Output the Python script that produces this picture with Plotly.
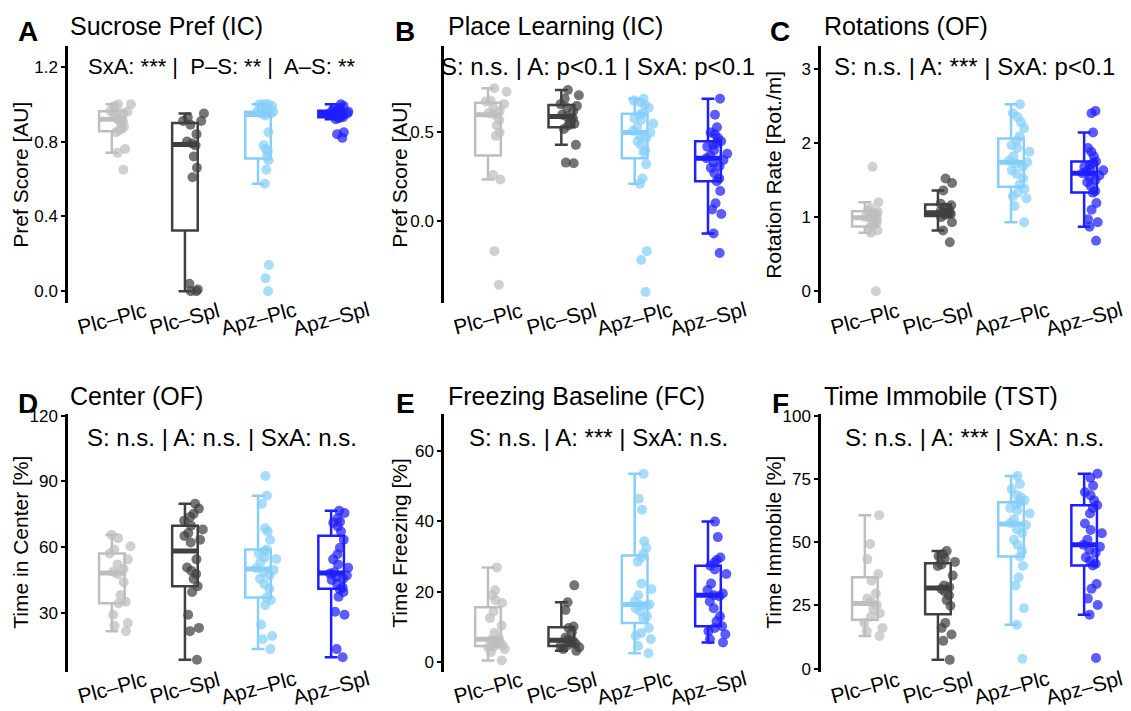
import numpy as np
import plotly.graph_objects as go

W, H = 1131, 711
FONT = "Liberation Sans, Arial, Helvetica, sans-serif"

cats = ["Plc–Plc", "Plc–Spl", "Apz–Plc", "Apz–Spl"]
box_colors = ["#BEBEBE", "#404040", "#87CEFA", "#1E1EFF"]
point_colors = ["rgba(190,190,190,0.72)", "rgba(64,64,64,0.72)",
                "rgba(135,206,250,0.72)", "rgba(30,30,255,0.72)"]

# A: Sucrose Pref (IC)
sucrose_plc_plc = [0.65, 0.74, 0.76, 0.85, 0.86, 0.88, 0.90, 0.91, 0.92, 0.94, 0.95, 0.955, 0.96, 0.965, 0.99, 1.0, 1.0]
sucrose_plc_spl = [0.0, 0.0, 0.01, 0.04, 0.61, 0.66, 0.72, 0.78, 0.79, 0.80, 0.84, 0.89, 0.91, 0.91, 0.93, 0.95]
sucrose_apz_plc = [0.0, 0.07, 0.14, 0.575, 0.65, 0.70, 0.72, 0.75, 0.76, 0.78, 0.85, 0.94,
                   0.95, 0.95, 0.95, 0.96, 0.96, 0.96, 0.96, 0.98, 0.99, 1.0, 1.0, 1.0]
sucrose_apz_spl = [0.82, 0.84, 0.85, 0.92, 0.925, 0.93, 0.93, 0.94, 0.94, 0.94, 0.945, 0.95, 0.95, 0.95,
                   0.96, 0.96, 0.965, 0.97, 0.97, 0.98, 0.99, 1.0]

# B: Place Learning (IC)
place_plc_plc = [-0.36, -0.17, 0.235, 0.26, 0.48, 0.50, 0.54, 0.57, 0.60, 0.61, 0.62, 0.64, 0.66, 0.675, 0.68, 0.73, 0.75]
place_plc_spl = [0.326, 0.33, 0.43, 0.52, 0.54, 0.55, 0.56, 0.58, 0.59, 0.60, 0.62, 0.64, 0.65, 0.66, 0.69, 0.71, 0.74]
place_apz_plc = [-0.40, -0.22, -0.17, 0.21, 0.24, 0.32, 0.39, 0.40, 0.43, 0.45, 0.47, 0.48, 0.50, 0.51, 0.53,
                 0.55, 0.57, 0.58, 0.60, 0.61, 0.64, 0.655, 0.67, 0.68, 0.69]
place_apz_spl = [-0.18, -0.07, 0.04, 0.065, 0.10, 0.17, 0.225, 0.24, 0.27, 0.30, 0.31, 0.33, 0.345, 0.355, 0.37,
                 0.38, 0.40, 0.42, 0.43, 0.44, 0.45, 0.47, 0.49, 0.50, 0.53, 0.60, 0.69]

# C: Rotations (OF)
rot_plc_plc = [0.0, 0.79, 0.82, 0.86, 0.885, 0.92, 0.95, 0.97, 0.99, 1.0, 1.03, 1.05, 1.07, 1.09, 1.12, 1.20, 1.68]
rot_plc_spl = [0.66, 0.82, 0.93, 1.0, 1.03, 1.04, 1.05, 1.055, 1.06, 1.08, 1.10, 1.13, 1.16, 1.18, 1.36, 1.46, 1.52]
rot_apz_plc = [0.93, 1.15, 1.25, 1.28, 1.33, 1.38, 1.44, 1.52, 1.58, 1.63, 1.68, 1.72, 1.74, 1.76, 1.82, 1.88,
               1.93, 1.97, 2.03, 2.09, 2.20, 2.28, 2.35, 2.40, 2.52]
rot_apz_spl = [0.68, 0.87, 0.93, 0.97, 1.10, 1.19, 1.33, 1.35, 1.42, 1.47, 1.50, 1.53, 1.56, 1.59, 1.61, 1.63,
               1.65, 1.68, 1.70, 1.73, 1.75, 1.82, 1.88, 1.93, 2.14, 2.40, 2.43]

# D: Center (OF)
center_plc_plc = [21.5, 24, 25.2, 29, 34.2, 34.9, 38, 43.9, 47.6, 48.6, 49.9, 52, 54.3, 57, 58.8, 60.3, 64, 65.5]
center_plc_spl = [8.4, 21.5, 23, 29, 39.4, 42, 45.4, 47.6, 49.1, 50.6, 54.3, 62, 63.3, 65, 66.3, 68, 69.7, 72,
                  73.7, 75.2, 77.5, 79.7]
center_apz_plc = [13.3, 17.8, 19.3, 24.5, 33.4, 35.7, 36.9, 40.9, 43, 45.4, 47, 48.5, 49.5, 50.3, 53, 54.5, 55.1,
                  57, 58, 58.8, 63.3, 67, 68.5, 79.7, 83.4, 92.4]
center_apz_spl = [9.6, 13.3, 29, 30.4, 37.2, 39.4, 40.5, 41.3, 43, 44.9, 45.5, 46.3, 46.9, 47.8, 48.4, 50.5, 52,
                  54.3, 56.6, 59.6, 63.3, 67, 69.3, 71, 71.5, 73, 75.5, 76.5]

# E: Freezing Baseline (FC)
freeze_plc_plc = [0.5, 2.8, 3.7, 4.2, 4.5, 4.7, 5.3, 5.6, 6.0, 6.3, 6.7, 8.3, 10.4, 12.5, 14.4, 16.8, 17.6, 19,
                  20.4, 26.9]
freeze_plc_spl = [3.2, 3.7, 4.2, 4.5, 4.7, 5.2, 5.7, 6.0, 6.4, 7.0, 8.5, 9.7, 10.1, 14.8, 17.0, 21.8]
freeze_apz_plc = [2.5, 4.6, 6.5, 7.5, 8.3, 9.7, 12.5, 13.0, 14.5, 15.3, 16.0, 16.2, 16.4, 17.2, 19, 20.7, 22.3,
                  28.5, 29.8, 30.8, 32.5, 34.3, 43.3, 46.4, 53.5]
freeze_apz_spl = [5.6, 6.5, 7.9, 8.8, 9.7, 10.2, 11.6, 13, 15.3, 17.2, 18.7, 19.0, 19.5, 20.5, 22.3, 25, 26.3,
                  27.4, 28.3, 29.0, 29.7, 35.5, 39.9]

# F: Time Immobile (TST)
immob_plc_plc = [12.9, 14.8, 16.1, 18.1, 20.5, 21.9, 23.5, 25.2, 26.4, 27.7, 29.7, 34.8, 37.4, 43.2, 49.3, 60.6]
immob_plc_spl = [3.5, 11, 13.5, 16.1, 18.1, 24.9, 27.1, 29, 30.5, 31.5, 32.3, 32.9, 36.8, 40.6, 41.2, 42.2, 43.5,
                 44.5, 45.2, 46.5]
immob_apz_plc = [3.9, 17.4, 23.9, 32.9, 36.1, 40.6, 44.3, 46.5, 49, 51, 53.5, 55, 56.8, 57.6, 59, 61.3, 62.5,
                 63.5, 65, 65.8, 66.5, 67.7, 68.5, 71, 73, 76.1]
immob_apz_spl = [4.2, 21.3, 25.2, 27.7, 31.6, 33.5, 40.8, 41.5, 42.6, 44, 45.8, 47, 48.2, 49.0, 51, 53.5, 54.8,
                 57.4, 61.3, 63.5, 64.6, 66.5, 68.5, 69.7, 72.3, 75.5, 77]

letters = ["A", "B", "C", "D", "E", "F"]
titles = ["Sucrose Pref (IC)", "Place Learning (IC)", "Rotations (OF)",
          "Center (OF)", "Freezing Baseline (FC)", "Time Immobile (TST)"]
stats = ["SxA: *** |  P–S: ** |  A–S: **", "S: n.s. | A: p&lt;0.1 | SxA: p&lt;0.1",
         "S: n.s. | A: *** | SxA: p&lt;0.1", "S: n.s. | A: n.s. | SxA: n.s.",
         "S: n.s. | A: *** | SxA: n.s.", "S: n.s. | A: *** | SxA: n.s."]
stats_size = [22, 24, 24, 24, 24, 24]
ytitles = ["Pref Score [AU]", "Pref Score [AU]", "Rotation Rate [Rot./m]",
           "Time in Center [%]", "Time Freezing [%]", "Time Immobile [%]"]
yticks = [[0.0, 0.4, 0.8, 1.2], [0.0, 0.5], [0, 1, 2, 3], [30, 60, 90, 120], [0, 20, 40, 60], [0, 25, 50, 75, 100]]
yticklabels = [["0.0", "0.4", "0.8", "1.2"], ["0.0", "0.5"], ["0", "1", "2", "3"],
               ["30", "60", "90", "120"], ["0", "20", "40", "60"], ["0", "25", "50", "75", "100"]]
yranges = [[-0.063, 1.31], [-0.463, 0.987], [-0.159, 3.304], [3.0, 120.8], [-2.7, 70.5], [-1.16, 100.7]]
panel_data = [
    [sucrose_plc_plc, sucrose_plc_spl, sucrose_apz_plc, sucrose_apz_spl],
    [place_plc_plc, place_plc_spl, place_apz_plc, place_apz_spl],
    [rot_plc_plc, rot_plc_spl, rot_apz_plc, rot_apz_spl],
    [center_plc_plc, center_plc_spl, center_apz_plc, center_apz_spl],
    [freeze_plc_plc, freeze_plc_spl, freeze_apz_plc, freeze_apz_spl],
    [immob_plc_plc, immob_plc_spl, immob_apz_plc, immob_apz_spl],
]

# layout geometry (pixels)
col_px = [(68, 375), (444, 752), (821, 1128)]
row_px = [(40, 302), (415, 678)]
ytitle_x = [21, 400, 774]
letter_x = [28, 405, 780]
title_x = [68, 446, 822]
title_y = [19, 397]
letter_y = [25, 404]
stats_y = [61, 439]


def fx(px):
    return px / W


def fy(py):
    return 1 - py / H


fig = go.Figure()
layout = dict(
    width=W, height=H, autosize=False,
    margin=dict(l=0, r=0, t=0, b=0),
    paper_bgcolor="white", plot_bgcolor="white",
    font=dict(family=FONT, color="black"),
    showlegend=False, boxmode="overlay",
)
annotations = []

for i in range(6):
    r, c = divmod(i, 3)
    sfx = "" if i == 0 else str(i + 1)
    xa, ya = "x" + sfx, "y" + sfx
    x0, x1 = col_px[c]
    y0, y1 = row_px[r]
    for k, vals in enumerate(panel_data[i]):
        med = float(np.median(vals))
        # thick median bar (ggplot-style fattened median)
        fig.add_trace(go.Box(
            x=[cats[k]], q1=[med], median=[med], q3=[med],
            lowerfence=[med], upperfence=[med],
            xaxis=xa, yaxis=ya, width=0.35,
            line=dict(color=box_colors[k], width=5),
            fillcolor="rgba(255,255,255,0)",
            hoverinfo="skip", showlegend=False,
        ))
        fig.add_trace(go.Box(
            x=[cats[k]] * len(vals), y=vals, xaxis=xa, yaxis=ya,
            boxpoints="all", jitter=0.9, pointpos=0.7, width=0.35,
            quartilemethod="exclusive",
            line=dict(color=box_colors[k], width=2.5),
            fillcolor="rgba(255,255,255,0)",
            marker=dict(color=point_colors[k], size=10, line=dict(width=0)),
            hoverinfo="skip", showlegend=False,
        ))
    layout["xaxis" + sfx] = dict(
        domain=[fx(x0), fx(x1)], anchor=ya, type="category",
        categoryorder="array", categoryarray=cats, range=[-0.6, 3.6],
        showline=False, showgrid=False, zeroline=False, ticks="",
        showticklabels=False, fixedrange=True,
    )
    layout["yaxis" + sfx] = dict(
        domain=[fy(y1), fy(y0)], anchor=xa, range=yranges[i],
        tickmode="array", tickvals=yticks[i], ticktext=yticklabels[i],
        showline=True, linecolor="black", linewidth=2.5,
        ticks="outside", ticklen=4, tickwidth=1.5, tickcolor="black",
        showgrid=False, zeroline=False,
        tickfont=dict(size=17, color="black", family=FONT), fixedrange=True,
    )
    for k, cat in enumerate(cats):
        annotations.append(dict(
            x=cat, xref=xa, y=fy(y1 + 16), yref="paper", text=cat,
            showarrow=False, textangle=-15, xanchor="center", yanchor="middle",
            font=dict(size=21, color="black", family=FONT),
        ))
    annotations.append(dict(
        x=fx(ytitle_x[c]), y=fy((y0 + y1) / 2), xref="paper", yref="paper",
        text=ytitles[i], textangle=-90, showarrow=False,
        xanchor="center", yanchor="middle",
        font=dict(size=21, color="black", family=FONT),
    ))
    annotations.append(dict(
        x=fx(letter_x[c]), y=fy(letter_y[r]), xref="paper", yref="paper",
        text="<b>" + letters[i] + "</b>", showarrow=False,
        xanchor="center", yanchor="middle",
        font=dict(size=28, color="black", family=FONT),
    ))
    annotations.append(dict(
        x=fx(title_x[c]), y=fy(title_y[r]), xref="paper", yref="paper",
        text=titles[i], showarrow=False, xanchor="left", yanchor="middle",
        font=dict(size=25, color="black", family=FONT),
    ))
    annotations.append(dict(
        x=fx((x0 + x1) / 2), y=fy(stats_y[r]), xref="paper", yref="paper",
        text=stats[i], showarrow=False, xanchor="center", yanchor="middle",
        font=dict(size=stats_size[i], color="black", family=FONT),
    ))

layout["annotations"] = annotations
fig.update_layout(**layout)
fig.write_html("out.html", config={"displayModeBar": False},
               post_script="document.body.style.margin='0px';")
